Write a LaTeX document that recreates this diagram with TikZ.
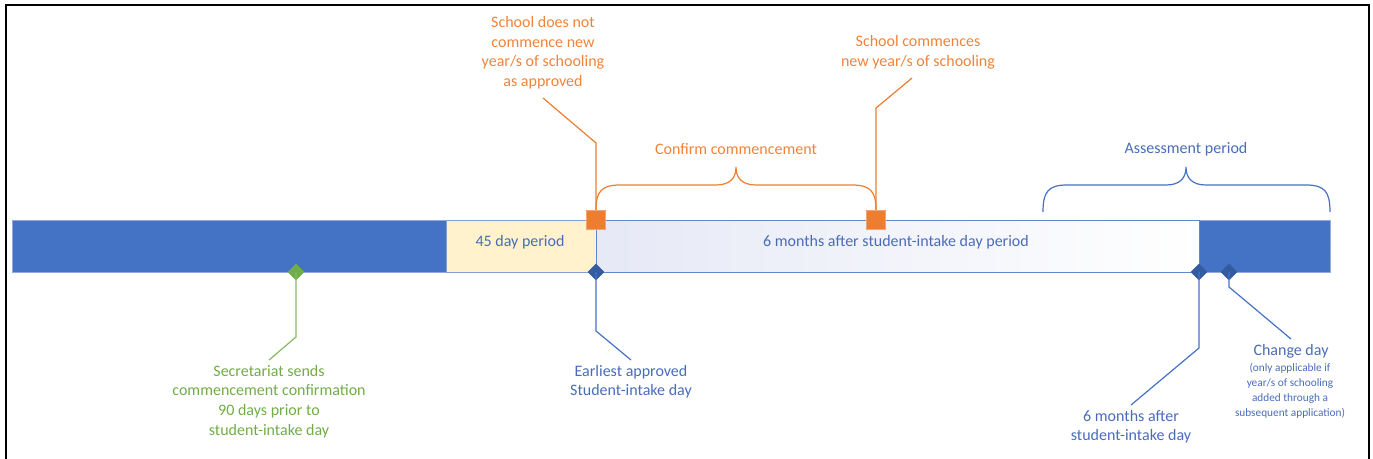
\documentclass[tikz,border=0pt]{standalone}
\usepackage{fontspec}
\setmainfont{Carlito}
\usetikzlibrary{shapes.geometric}
\definecolor{barblue}{HTML}{4472C4}
\definecolor{txtblue}{HTML}{4A6CB8}
\definecolor{lineblue}{HTML}{8FAADC}
\definecolor{dkblue}{HTML}{2F5597}
\definecolor{orng}{HTML}{ED7D31}
\definecolor{orngtxt}{HTML}{F0833A}
\definecolor{grn}{HTML}{70AD47}
\definecolor{cream}{HTML}{FFF2CC}
\definecolor{lav}{HTML}{E6E9F6}
\tikzset{
  lbl/.style={align=center, font=\fontsize{16}{19.6}\selectfont, inner sep=0pt},
  smalllbl/.style={align=center, font=\fontsize{11.3}{15}\selectfont, inner sep=0pt},
  dia/.style={diamond, minimum width=17pt, minimum height=17pt, inner sep=0pt},
  sq/.style={rectangle, fill=orng, draw=orng!70!white, line width=0.6pt, minimum size=19pt, inner sep=0pt},
  leader/.style={line width=1.2pt},
}
\begin{document}
\begin{tikzpicture}[x=1pt,y=-1pt]
\useasboundingbox (0,0) rectangle (1373,458);
% frame
\draw[line width=2pt, black] (6,470) -- (6,5) -- (1369,5) -- (1369,470);
% main bar
\node[rectangle, fill=barblue, draw=lineblue, line width=0.6pt, minimum width=1318pt, minimum height=52pt, inner sep=0pt, anchor=north west] (bar) at (12,220) {};
\node[rectangle, fill=cream, draw=lineblue!80!barblue, line width=1pt, minimum width=150pt, minimum height=52pt, inner sep=0pt, anchor=north west] (p45) at (446,220) {};
\node[rectangle, left color=lav, right color=white, draw=barblue!85!white, line width=1.2pt, minimum width=603pt, minimum height=52pt, inner sep=0pt, anchor=north west] (p6) at (596,220) {};
\draw[white!45!barblue, dash pattern=on 3pt off 2pt, line width=1.2pt] (bar.north east) -- (bar.south east);
\node[lbl, text=txtblue] (t45) at (520,242) {45 day period};
\node[lbl, text=txtblue] (t6) at (896,242) {6 months after student-intake day period};
% green marker
\node[dia, fill=grn] (dg) at (296,272) {};
\node[lbl, text=grn, anchor=north] (sec) at (269,365) {Secretariat sends\\commencement confirmation\\90 days prior to\\student-intake day};
\coordinate (secend) at (269,360);
\draw[grn!85!white, leader] (dg.center) -- ++(0,65) -- (secend);
% blue markers
\node[dia, fill=dkblue!80!barblue] (d1) at (596,272) {};
\node[dia, fill=dkblue!80!barblue] (d2) at (1199,272) {};
\node[dia, fill=dkblue!80!barblue] (d3) at (1229,272) {};
\node[lbl, text=txtblue, anchor=north] (early) at (631,365) {Earliest approved\\Student-intake day};
\coordinate (earlyend) at (631,360);
\draw[barblue, leader] (d1.center) -- ++(0,59) -- (earlyend);
\node[lbl, text=txtblue, anchor=north] (six) at (1131,410) {6 months after\\student-intake day};
\coordinate (sixend) at (1131,405);
\draw[barblue, leader] (d2.center) -- ++(0,76) -- (sixend);
\node[lbl, text=txtblue, anchor=north] (chg) at (1291,344) {Change day};
\node[smalllbl, text=txtblue, anchor=north] (chgsub) at (1290,363) {(only applicable if\\year/s of schooling\\added through a\\subsequent application)};
\coordinate (chgend) at (1291,339);
\draw[barblue, leader] (d3.center) -- ++(0,15) -- (chgend);
% orange squares and leaders
\node[lbl, text=orngtxt, anchor=south] (notc) at (543,89) {School does not\\commence new\\year/s of schooling\\as approved};
\node[lbl, text=orngtxt, anchor=south] (comm) at (918,69) {School commences\\new year/s of schooling};
\coordinate (s1top) at (596,210);
\coordinate (s2top) at (876,210);
\coordinate (notcend) at (543,98);
\coordinate (commend) at (912,78);
\draw[orng, leader] (s1top) -- ++(0,-67) -- (notcend);
\draw[orng, leader] (s2top) -- ++(0,-102) -- (commend);
% braces
\draw[orng, line width=1.2pt] (s1top) .. controls (596,192) and (601,185) .. (620,185) -- (716,185) .. controls (730,185) and (736,178) .. (736,167) .. controls (736,178) and (742,185) .. (756,185) -- (852,185) .. controls (871,185) and (876,192) .. (s2top);
\node[lbl, text=orngtxt] (conf) at (736,149) {Confirm commencement};
\node[sq] (s1) at (596,220) {};
\node[sq] (s2) at (876,220) {};
\coordinate (ab1) at (1043,212);
\coordinate (ab2) at (1330,212);
\draw[barblue, line width=1.2pt] (ab1) .. controls (1043,192) and (1048,185) .. (1067,185) -- (1166,185) .. controls (1180,185) and (1186,178) .. (1186,167) .. controls (1186,178) and (1192,185) .. (1206,185) -- (1306,185) .. controls (1325,185) and (1330,192) .. (ab2);
\node[lbl, text=txtblue] (assess) at (1186,149) {Assessment period};
\end{tikzpicture}
\end{document}
